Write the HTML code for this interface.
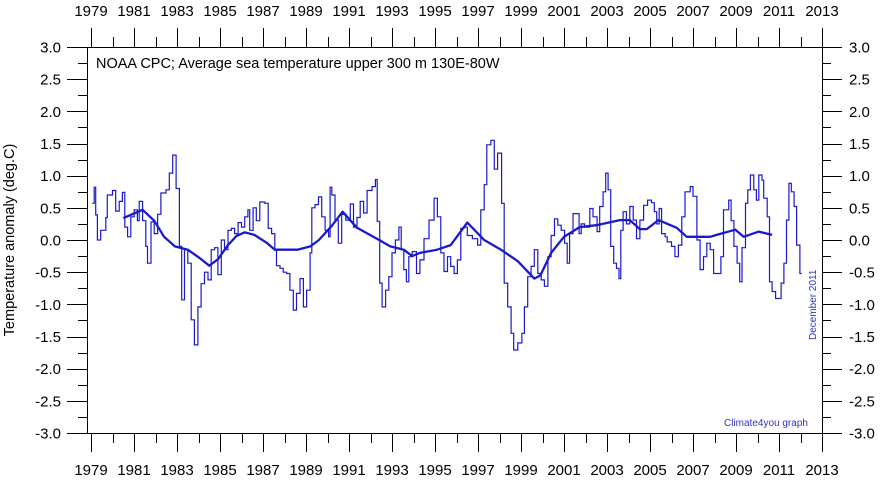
<!DOCTYPE html>
<html><head><meta charset="utf-8"><style>
body{margin:0;background:#fff;}
svg text{font-family:"Liberation Sans",Arial,sans-serif;}
</style></head><body>
<svg id="chart" width="880" height="481" xmlns="http://www.w3.org/2000/svg">
<rect x="0" y="0" width="880" height="481" fill="#fff"/>
<g id="axes"></g>
<g id="series"></g>
<text x="96" y="68" font-size="14.5" fill="#000">NOAA CPC; Average sea temperature upper 300 m 130E-80W</text>
<text transform="translate(14,240) rotate(-90)" text-anchor="middle" font-size="14.5" fill="#000">Temperature anomaly (deg.C)</text>
<text transform="translate(816,340) rotate(-90)" font-size="10" fill="#3333cc">December 2011</text>
<text x="724" y="426" font-size="10" fill="#3333cc">Climate4you graph</text>
</svg>
<script>
const rawTimes=[1979.06,1979.15,1979.22,1979.30,1979.45,1979.69,1979.76,1980.0,1980.15,1980.31,1980.46,1980.57,1980.70,1980.85,1981.01,1981.16,1981.24,1981.40,1981.55,1981.63,1981.79,1981.94,1982.10,1982.25,1982.49,1982.64,1982.80,1982.96,1983.11,1983.22,1983.35,1983.50,1983.66,1983.81,1983.97,1984.12,1984.28,1984.44,1984.59,1984.75,1984.90,1985.06,1985.21,1985.37,1985.53,1985.68,1985.84,1986.0,1986.15,1986.30,1986.38,1986.54,1986.69,1986.85,1987.09,1987.24,1987.40,1987.55,1987.63,1987.79,1987.94,1988.10,1988.25,1988.41,1988.56,1988.72,1988.88,1989.03,1989.19,1989.27,1989.42,1989.58,1989.73,1989.89,1990.05,1990.12,1990.20,1990.35,1990.50,1990.66,1990.85,1991.06,1991.21,1991.37,1991.52,1991.68,1991.84,1992.07,1992.23,1992.31,1992.43,1992.54,1992.70,1992.85,1993.0,1993.16,1993.32,1993.43,1993.55,1993.67,1993.78,1993.94,1994.14,1994.30,1994.49,1994.72,1994.96,1995.11,1995.27,1995.42,1995.58,1995.73,1995.89,1996.04,1996.20,1996.35,1996.50,1996.74,1996.98,1997.13,1997.29,1997.41,1997.60,1997.76,1997.91,1998.10,1998.22,1998.38,1998.54,1998.66,1998.85,1999.04,1999.16,1999.31,1999.47,1999.62,1999.78,1999.94,2000.09,2000.25,2000.40,2000.56,2000.71,2000.87,2001.03,2001.15,2001.26,2001.42,2001.57,2001.70,2001.80,2001.96,2002.20,2002.35,2002.54,2002.66,2002.82,2002.94,2003.05,2003.17,2003.31,2003.44,2003.56,2003.64,2003.75,2003.90,2004.06,2004.22,2004.37,2004.53,2004.70,2004.89,2005.07,2005.20,2005.31,2005.43,2005.54,2005.70,2005.80,2006.0,2006.16,2006.32,2006.48,2006.63,2006.87,2007.0,2007.18,2007.33,2007.49,2007.64,2007.80,2007.96,2008.19,2008.30,2008.42,2008.66,2008.77,2008.90,2009.05,2009.17,2009.28,2009.44,2009.55,2009.67,2009.83,2009.95,2010.06,2010.21,2010.29,2010.45,2010.56,2010.68,2010.84,2010.99,2011.10,2011.23,2011.35,2011.46,2011.57,2011.70,2011.82,2011.97];
const rawValues=[0.57,0.82,0.39,0.0,0.15,0.35,0.7,0.77,0.45,0.6,0.74,0.2,0.05,0.36,0.47,0.3,0.6,0.3,-0.1,-0.36,0.28,0.1,0.4,0.73,0.78,1.04,1.32,0.8,-0.1,-0.93,-0.15,-0.36,-1.24,-1.63,-1.04,-0.68,-0.5,-0.62,-0.15,-0.12,-0.54,0.0,-0.15,0.15,0.18,0.1,0.27,0.2,0.36,0.47,0.15,0.5,0.3,0.59,0.57,0.18,0.1,-0.15,-0.4,-0.44,-0.5,-0.52,-0.78,-1.09,-0.83,-0.6,-1.04,-0.78,-0.2,0.5,0.55,0.67,0.36,0.15,0.05,0.82,0.7,0.31,-0.05,0.4,0.31,0.56,0.2,0.35,0.6,0.42,0.77,0.83,0.94,0.29,-0.67,-1.04,-0.78,-0.57,-0.2,0.0,0.2,-0.15,-0.46,-0.65,-0.26,-0.18,-0.52,-0.31,0.02,0.31,0.65,0.36,-0.2,-0.49,-0.26,-0.41,-0.52,-0.31,0.18,0.2,0.07,0.02,-0.08,0.47,0.86,1.48,1.55,1.1,1.35,0.57,-0.67,-1.04,-1.45,-1.71,-1.6,-1.45,-1.04,-0.57,-0.41,-0.15,-0.52,-0.62,-0.72,-0.26,0.07,0.33,0.23,0.15,-0.05,-0.36,0.1,0.41,0.41,0.1,0.25,0.2,0.49,0.36,0.13,0.52,0.75,1.04,0.78,-0.1,-0.36,-0.44,-0.6,0.15,0.44,0.25,0.52,0.31,0.02,0.31,0.54,0.62,0.58,0.44,0.25,0.49,0.1,0.05,-0.03,-0.1,-0.26,-0.08,0.36,0.75,0.83,0.68,0.0,-0.46,-0.26,-0.05,-0.15,-0.52,-0.52,-0.26,0.47,0.62,0.3,-0.1,-0.36,-0.65,-0.12,0.57,0.78,1.01,0.78,0.62,1.01,0.93,0.65,0.36,-0.65,-0.8,-0.91,-0.91,-0.67,-0.36,0.31,0.88,0.75,0.52,-0.08,-0.52,-0.36];
const smoothTimes=[1980.5,1981.4,1981.94,1982.4,1982.9,1983.5,1984.05,1984.5,1984.9,1985.37,1985.76,1986.15,1986.6,1987.2,1987.55,1988.0,1988.6,1989.2,1989.6,1990.2,1990.7,1991.37,1992.3,1992.92,1993.55,1993.94,1994.3,1995.1,1995.73,1996.5,1997.29,1998.07,1998.85,1999.62,1999.9,2000.4,2001.0,2001.73,2002.5,2003.6,2004.06,2004.53,2004.85,2005.39,2006.24,2006.71,2007.8,2008.1,2008.97,2009.36,2010.06,2010.68];
const smoothValues=[0.34,0.47,0.3,0.05,-0.1,-0.15,-0.28,-0.4,-0.3,-0.08,0.06,0.12,0.08,-0.05,-0.15,-0.15,-0.15,-0.1,0.0,0.22,0.44,0.19,0.02,-0.1,-0.15,-0.25,-0.2,-0.15,-0.08,0.27,0.0,-0.15,-0.33,-0.6,-0.55,-0.2,0.05,0.2,0.23,0.31,0.31,0.17,0.17,0.31,0.19,0.05,0.05,0.08,0.16,0.05,0.13,0.08];
const yTicks=[3.0,2.5,2.0,1.5,1.0,0.5,0.0,-0.5,-1.0,-1.5,-2.0,-2.5,-3.0];
const xTickYears=[1979,1981,1983,1985,1987,1989,1991,1993,1995,1997,1999,2001,2003,2005,2007,2009,2011,2013];

const L=87,R=822,T=47,B=433;
const xs=t=>91+(t-1979)*(822-91)/34;
const ys=v=>240-v*(B-T)/6;
const NS="http://www.w3.org/2000/svg";
function mk(tag,attrs,parent){const e=document.createElementNS(NS,tag);for(const k in attrs)e.setAttribute(k,attrs[k]);parent.appendChild(e);return e;}
const ax=document.getElementById('axes');
const frame=mk('rect',{x:L+0.5,y:T+0.5,width:R-L,height:B-T,fill:'none',stroke:'#000','stroke-width':1},ax);


for(let k=-12;k<=12;k++){
  const v=k*0.25;
  const y=Math.round(ys(v))+0.5;const major=(k%2===0);
  const len=major?20:9;
  mk('line',{x1:L-len,x2:L,y1:y,y2:y,stroke:'#000'},ax);
  mk('line',{x1:R,x2:R+len,y1:y,y2:y,stroke:'#000'},ax);
}
yTicks.forEach(v=>{
  const y=ys(v)+5.5;
  const a=mk('text',{x:61,y:y,'text-anchor':'end','font-size':15,fill:'#000'},ax);a.textContent=v.toFixed(1);
  
  
  const b=mk('text',{x:849,y:y,'font-size':15,fill:'#000'},ax);b.textContent=v.toFixed(1);
  
  
});
for(let yr=1979;yr<=2013;yr++){
  const x=Math.round(xs(yr))+0.5;const len=(yr%2)?19:10;
  mk('line',{x1:x,x2:x,y1:B,y2:B+len,stroke:'#000'},ax);
  mk('line',{x1:x,x2:x,y1:T-len,y2:T,stroke:'#000'},ax);
}
xTickYears.forEach(yr=>{
  const x=xs(yr);
  const a=mk('text',{x:x,y:475,'text-anchor':'middle','font-size':15,fill:'#000'},ax);a.textContent=yr;
  
  
  const b=mk('text',{x:x,y:16,'text-anchor':'middle','font-size':15,fill:'#000'},ax);b.textContent=yr;
  
  
});
const sg=document.getElementById('series');
let d='';
for(let i=0;i<rawTimes.length;i++){
  const x=xs(rawTimes[i]).toFixed(1),y=ys(rawValues[i]).toFixed(1);
  d+=(i===0?'M'+x+','+y:'H'+x+' V'+y)+' ';
}
d+='H'+xs(2012.05).toFixed(1);
const raw=mk('path',{d:d,fill:'none',stroke:'#1a1acc','stroke-width':1.2},sg);


const sd=smoothTimes.map((t,i)=>(i?'L':'M')+xs(t).toFixed(1)+','+ys(smoothValues[i]).toFixed(1)).join(' ');
const sm=mk('path',{d:sd,fill:'none',stroke:'#1a1acc','stroke-width':2.3,'stroke-linejoin':'round'},sg);


</script>
</body></html>
